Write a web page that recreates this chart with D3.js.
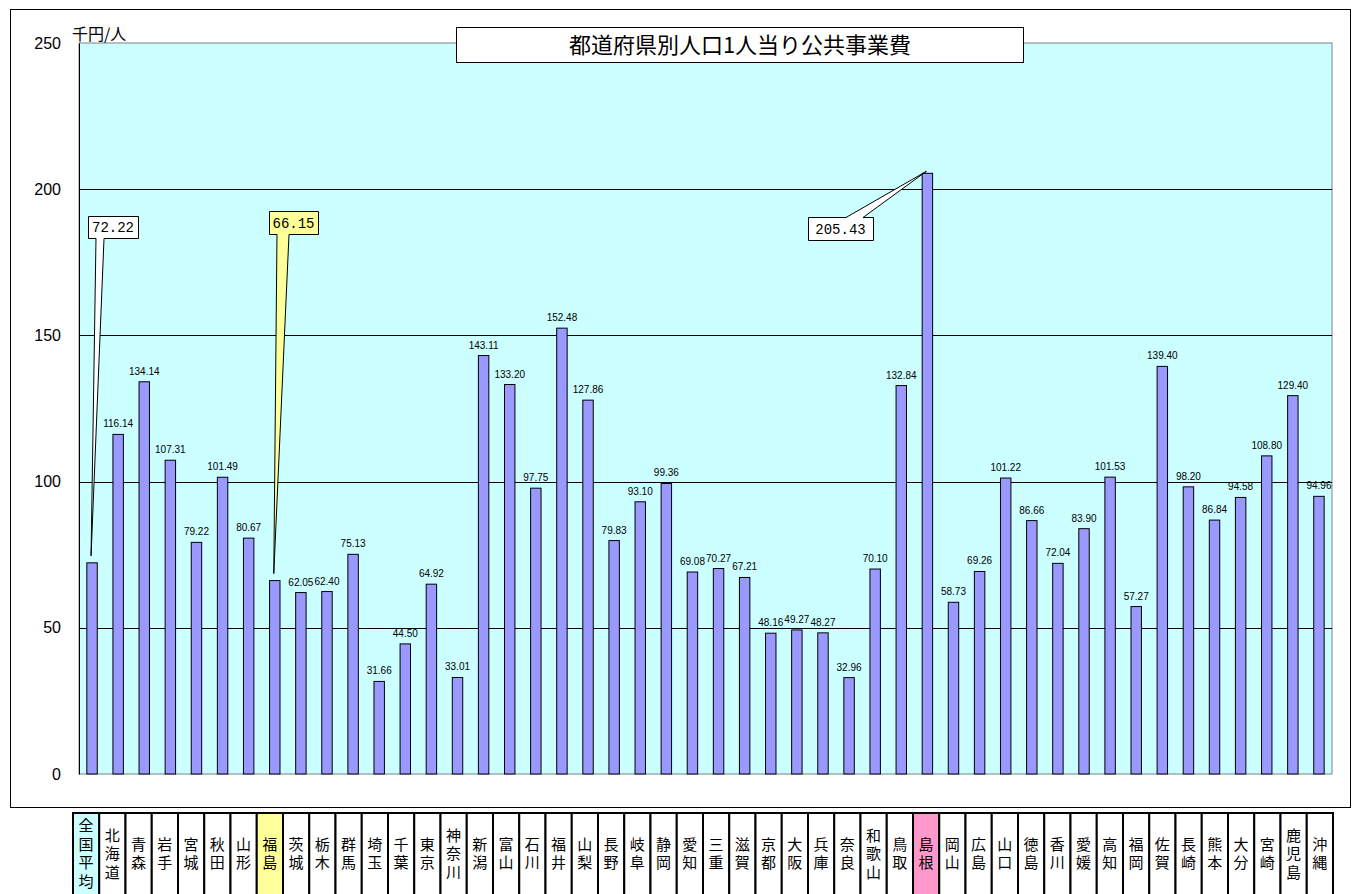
<!DOCTYPE html>
<html>
<head>
<meta charset="utf-8">
<script src="https://cdn.jsdelivr.net/npm/d3@7"></script>
<style>
  body { margin: 0; background: #fff; }
  svg { display: block; }
  .tick text { font-family: "Liberation Sans", Arial, sans-serif; }
</style>
</head>
<body>
<div id="chart"></div>
<script>
// prefectures (x categories)
var prefs = ["全国平均","北海道","青森","岩手","宮城","秋田","山形","福島","茨城","栃木",
  "群馬","埼玉","千葉","東京","神奈川","新潟","富山","石川","福井","山梨",
  "長野","岐阜","静岡","愛知","三重","滋賀","京都","大阪","兵庫","奈良",
  "和歌山","鳥取","島根","岡山","広島","山口","徳島","香川","愛媛","高知",
  "福岡","佐賀","長崎","熊本","大分","宮崎","鹿児島","沖縄"];

// public works spending per person (thousand yen)
var values = [72.22,116.14,134.14,107.31,79.22,101.49,80.67,66.15,62.05,62.40,
  75.13,31.66,44.50,64.92,33.01,143.11,133.20,97.75,152.48,127.86,
  79.83,93.10,99.36,69.08,70.27,67.21,48.16,49.27,48.27,32.96,
  70.10,132.84,205.43,58.73,69.26,101.22,86.66,72.04,83.90,101.53,
  57.27,139.40,98.20,86.84,94.58,108.80,129.40,94.96];

var yTicks = [0, 50, 100, 150, 200, 250];

// highlighted prefectures -> callout + table cell colour
var highlights = ["全国平均", "福島", "島根"];
var cellColors = {"全国平均": "#CCFFFF", "福島": "#FFFF99", "島根": "#FF99CC"};

var W = 1353, H = 894;
var plot = {left: 79, top: 43, right: 1332, bottom: 774};

var svg = d3.select("#chart").append("svg")
    .attr("width", W)
    .attr("height", H);

// outer chart frame
svg.append("rect")
    .attr("x", 10.5).attr("y", 9.5)
    .attr("width", 1340).attr("height", 798)
    .attr("fill", "#fff")
    .attr("stroke", "#000");

var x = d3.scaleBand()
    .domain(prefs)
    .range([plot.left, plot.right])
    .paddingInner(0.6)
    .paddingOuter(0.3);

var y = d3.scaleLinear()
    .domain([0, 250])
    .range([plot.bottom, plot.top]);

// plot background
svg.append("rect")
    .attr("x", plot.left).attr("y", plot.top)
    .attr("width", plot.right - plot.left)
    .attr("height", plot.bottom - plot.top)
    .attr("fill", "#CCFFFF")
    .attr("stroke", "#808080");

// gridlines
svg.append("g")
  .selectAll("line")
  .data(yTicks.slice(1, 5))
  .enter().append("line")
    .attr("x1", plot.left).attr("x2", plot.right)
    .attr("y1", function(d) { return Math.round(y(d)) + 0.5; })
    .attr("y2", function(d) { return Math.round(y(d)) + 0.5; })
    .attr("stroke", "#000")
    .attr("stroke-width", 1);

// y axis
var yAxis = svg.append("g")
    .attr("transform", "translate(" + plot.left + ",0)")
    .call(d3.axisLeft(y).tickValues(yTicks).tickSize(0).tickPadding(18));
yAxis.select(".domain").attr("stroke", "#000");
yAxis.selectAll("text")
    .attr("font-size", 16)
    .attr("fill", "#000");

svg.append("text")
    .attr("x", 72).attr("y", 40)
    .attr("font-family", "'Noto Sans CJK JP', sans-serif")
    .attr("font-size", 16)
    .text("千円/人");

// bar data with names
var rows = prefs.map(function(p, i) { return {name: p, value: values[i]}; });

// bars
svg.append("g")
  .selectAll("rect")
  .data(rows)
  .enter().append("rect")
    .attr("x", function(d) { return x(d.name); })
    .attr("y", function(d) { return y(d.value); })
    .attr("width", x.bandwidth())
    .attr("height", function(d) { return plot.bottom - y(d.value); })
    .attr("fill", "#9999FF")
    .attr("stroke", "#000")
    .attr("stroke-width", 1);

// value labels (not for the callout ones)
svg.append("g")
  .selectAll("text")
  .data(rows.filter(function(d) { return highlights.indexOf(d.name) < 0; }))
  .enter().append("text")
    .attr("x", function(d) { return x(d.name) + x.bandwidth() / 2; })
    .attr("y", function(d) { return y(d.value) - 7; })
    .attr("text-anchor", "middle")
    .attr("font-family", "'Liberation Sans', Arial, sans-serif")
    .attr("font-size", 10)
    .attr("fill", "#000")
    .text(function(d) { return d.value.toFixed(2); });

// callouts: box position + wedge base on the box
var callouts = [
  {name: "全国平均", bx: 88, by: 216, bw: 50, bh: 22, side: "bottom", w1: 96, w2: 104, fill: "#fff"},
  {name: "福島", bx: 269, by: 211, bw: 49, bh: 23, side: "bottom", w1: 277, w2: 289, fill: "#FFFF99"},
  {name: "島根", bx: 808, by: 217, bw: 65, bh: 23, side: "top", w1: 846, w2: 863, fill: "#fff"}
];

callouts.forEach(function(c) {
  var i = prefs.indexOf(c.name);
  var px = x(c.name) + x.bandwidth() / 2 - 1;
  var py = y(values[i]) - (c.side === "top" ? 2 : 7);
  var x0 = c.bx + 0.5, x1 = c.bx + c.bw + 0.5, y0 = c.by + 0.5, y1 = c.by + c.bh + 0.5;
  var p;
  if (c.side === "bottom") {
    p = "M" + x0 + "," + y0 + "H" + x1 + "V" + y1 + "H" + c.w2 +
        "L" + px + "," + py + "L" + c.w1 + "," + y1 + "H" + x0 + "Z";
  } else {
    p = "M" + x0 + "," + y0 + "H" + c.w1 + "L" + px + "," + py + "L" + c.w2 + "," + y0 +
        "H" + x1 + "V" + y1 + "H" + x0 + "Z";
  }
  svg.append("path")
      .attr("d", p)
      .attr("fill", c.fill)
      .attr("stroke", "#000")
      .attr("stroke-width", 1);
  svg.append("text")
      .attr("x", c.bx + c.bw / 2)
      .attr("y", c.by + c.bh / 2 + 5)
      .attr("text-anchor", "middle")
      .attr("font-family", "'Liberation Mono', monospace")
      .attr("font-size", 14)
      .text(values[i].toFixed(2));
});

// title box
svg.append("rect")
    .attr("x", 456.5).attr("y", 27.5)
    .attr("width", 567).attr("height", 35)
    .attr("fill", "#fff")
    .attr("stroke", "#000");
svg.append("text")
    .attr("x", 740).attr("y", 53)
    .attr("text-anchor", "middle")
    .attr("font-family", "'Noto Sans CJK JP', sans-serif")
    .attr("font-size", 22)
    .text("都道府県別人口1人当り公共事業費");

// prefecture name table under the chart
var tx = d3.scaleBand()
    .domain(prefs)
    .range([73, 1333]);
var tableTop = 813;

var cells = svg.append("g")
  .selectAll("g")
  .data(prefs)
  .enter().append("g")
    .attr("transform", function(d) { return "translate(" + tx(d) + "," + tableTop + ")"; });

cells.append("rect")
    .attr("width", tx.bandwidth())
    .attr("height", 100)
    .attr("fill", function(d) { return cellColors[d] || "#fff"; })
    .attr("stroke", "#000")
    .attr("stroke-width", 2);

cells.each(function(d) {
  var chars = d.split("");
  var lh = 18.5;
  var start = 41 - (chars.length - 1) * lh / 2;
  d3.select(this).selectAll("text")
    .data(chars)
    .enter().append("text")
      .attr("x", tx.bandwidth() / 2)
      .attr("y", function(c, k) { return start + k * lh + 5; })
      .attr("text-anchor", "middle")
      .attr("font-family", "'Noto Sans CJK JP', sans-serif")
      .attr("font-size", 15)
      .text(function(c) { return c; });
});
</script>
</body>
</html>
